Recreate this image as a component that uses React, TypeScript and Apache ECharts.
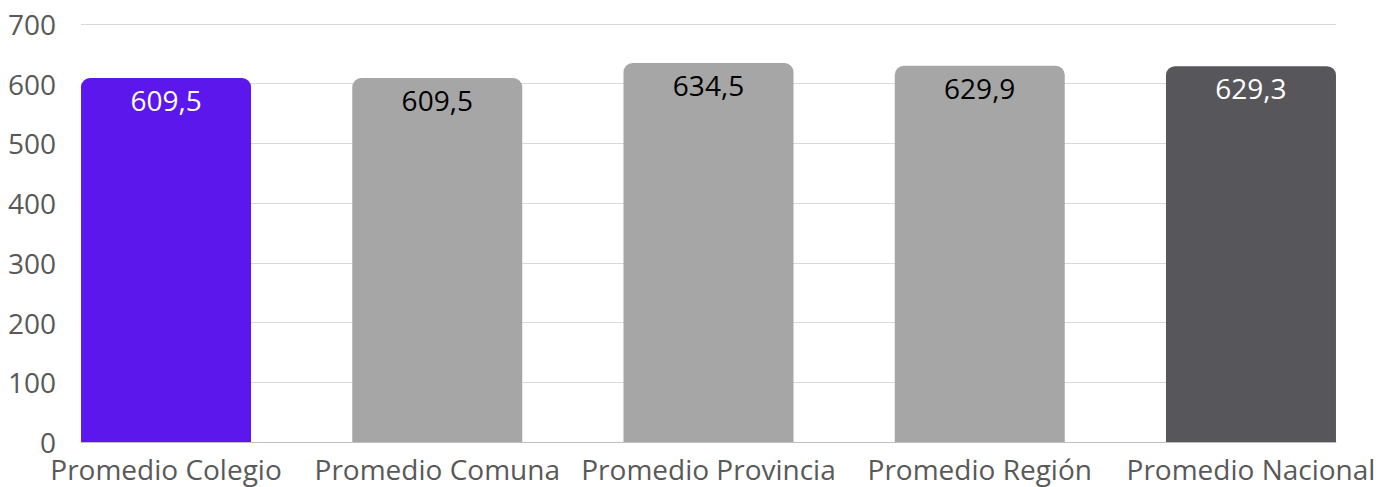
import React, { useEffect, useRef } from "react";
import * as echarts from "echarts";

const categories = ["Promedio Colegio", "Promedio Comuna", "Promedio Provincia", "Promedio Región", "Promedio Nacional"];
const values = [609.5, 609.5, 634.5, 629.9, 629.3];
const barColors = ["#5B17EC", "#A6A6A6", "#A6A6A6", "#A6A6A6", "#57565B"];
const labelColors = ["#FFFFFF", "#000000", "#000000", "#000000", "#FFFFFF"];

export default function App() {
  const ref = useRef<HTMLDivElement>(null);
  useEffect(() => {
    if (!ref.current) return;
    const chart = echarts.init(ref.current, null, { renderer: "svg" });
    const font = "'Open Sans', sans-serif";
    chart.setOption({
      animation: false,
      grid: [
        { left: 81, right: 54, top: 24, bottom: 45 },
        { left: 30.4, right: 3.4, top: 24, bottom: 45 },
      ],
      xAxis: [
        {
          type: "category",
          gridIndex: 0,
          data: categories,
          axisLine: { show: true, lineStyle: { color: "#BFBFBF", width: 1 } },
          axisTick: { show: false },
          axisLabel: { show: false },
        },
        {
          type: "category",
          gridIndex: 1,
          data: categories,
          axisLine: { show: false },
          axisTick: { show: false },
          axisLabel: { color: "#595959", fontSize: 28, lineHeight: 28, fontFamily: font, margin: 13, interval: 0 },
        },
      ],
      yAxis: [
        {
          type: "value",
          gridIndex: 0,
          min: 0,
          max: 700,
          interval: 100,
          axisLine: { show: false },
          axisTick: { show: false },
          splitLine: { lineStyle: { color: "#D9D9D9", width: 1 } },
          axisLabel: { color: "#595959", fontSize: 28, lineHeight: 20, fontFamily: font, margin: 25 },
        },
        {
          type: "value",
          gridIndex: 1,
          min: 0,
          max: 700,
          interval: 100,
          show: false,
          splitLine: { show: false },
        },
      ],
      series: [
        {
          type: "bar",
          xAxisIndex: 1,
          yAxisIndex: 1,
          barWidth: 170,
          data: values.map((v, i) => ({
            value: v,
            itemStyle: { color: barColors[i], borderRadius: [9, 9, 0, 0] },
            label: { color: labelColors[i] },
          })),
          label: {
            show: true,
            position: "insideTop",
            distance: 8,
            fontSize: 28,
            fontFamily: font,
            formatter: (p: any) => String(p.value.toFixed(1)).replace(".", ","),
          },
        },
      ],
    });
    return () => chart.dispose();
  }, []);
  return <div ref={ref} style={{ width: 1390, height: 487, position: "absolute", left: 0, top: 0 }} />;
}
